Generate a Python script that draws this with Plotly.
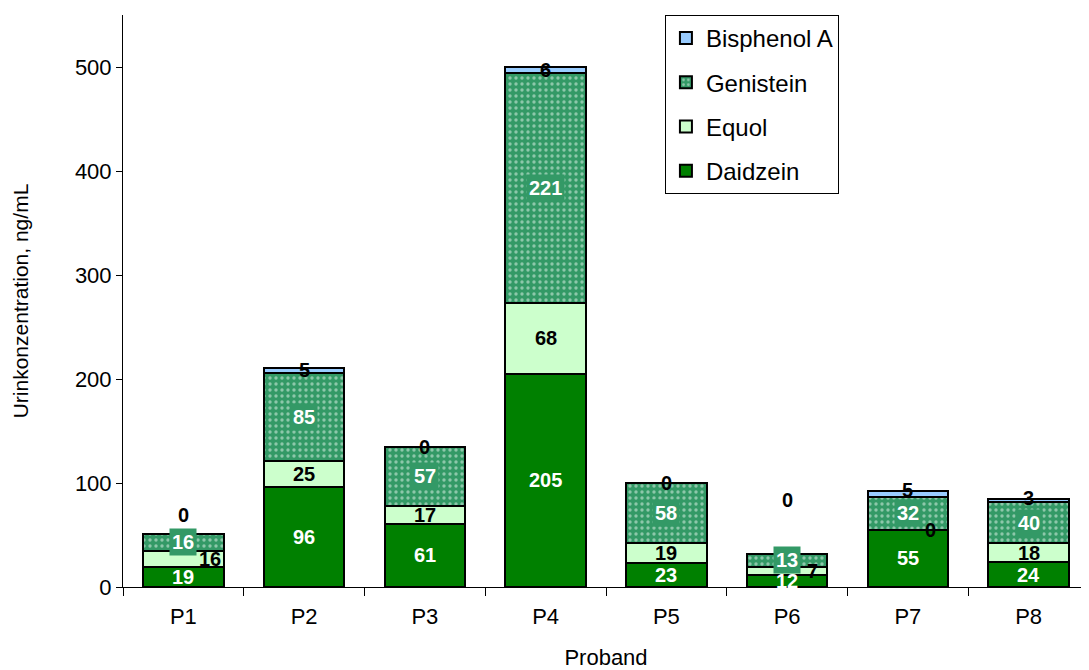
import plotly.graph_objects as go

categories = ["P1", "P2", "P3", "P4", "P5", "P6", "P7", "P8"]
daidzein = [19, 96, 61, 205, 23, 12, 55, 24]
equol = [16, 25, 17, 68, 19, 7, 0, 18]
genistein = [16, 85, 57, 221, 58, 13, 32, 40]
bisphenol = [0, 5, 0, 6, 0, 0, 5, 3]

y_ticks = [0, 100, 200, 300, 400, 500]

FONT = "Liberation Sans, Arial, sans-serif"

fig = go.Figure()
line = dict(color="black", width=2)
fig.add_trace(go.Bar(name="Daidzein", x=categories, y=daidzein,
                     marker=dict(color="#008000", line=line), legendgroup="d", legendrank=4))
fig.add_trace(go.Bar(name="Equol", x=categories, y=equol,
                     marker=dict(color="#CCFFCC", line=line), legendgroup="e", legendrank=3))
fig.add_trace(go.Bar(name="Genistein", x=categories, y=genistein,
                     marker=dict(color="#339966", line=line,
                                 pattern=dict(shape=".", fgcolor="#E8F5EE", bgcolor="#339966",
                                              size=6, solidity=0.25)),
                     legendgroup="g", legendrank=2))
fig.add_trace(go.Bar(name="Bisphenol A", x=categories, y=bisphenol,
                     marker=dict(color="#99CCFF", line=line), legendgroup="b", legendrank=1))

annotations = []
LS = 20
eq_xshift = {0: 27, 5: 25, 6: 23}
bpa_yshift = {0: 19, 5: 54, 6: 4, 7: 2}
for i, c in enumerate(categories):
    d, e, g, b = daidzein[i], equol[i], genistein[i], bisphenol[i]
    annotations.append(dict(x=c, y=d / 2, text="<b>%d</b>" % d, showarrow=False,
                            font=dict(family=FONT, size=LS, color="white")))
    annotations.append(dict(x=c, y=d + e / 2, text="<b>%d</b>" % e, showarrow=False,
                            xshift=eq_xshift.get(i, 0),
                            font=dict(family=FONT, size=LS, color="black")))
    annotations.append(dict(x=c, y=d + e + g / 2, text="<b>%d</b>" % g, showarrow=False,
                            bgcolor="#339966", borderpad=2,
                            font=dict(family=FONT, size=LS, color="white")))
    annotations.append(dict(x=c, y=d + e + g + b / 2, text="<b>%d</b>" % b, showarrow=False,
                            yshift=bpa_yshift.get(i, 0),
                            font=dict(family=FONT, size=LS, color="black")))

fig.update_layout(
    barmode="stack",
    bargap=1 / 3,
    width=1081, height=662,
    margin=dict(l=115, r=0, t=7, b=83),
    paper_bgcolor="white", plot_bgcolor="white",
    font=dict(family=FONT, size=21, color="black"),
    annotations=annotations,
    showlegend=True,
    legend=dict(x=0.561, y=1.0, xanchor="left", yanchor="top",
                bordercolor="black", borderwidth=1, bgcolor="white",
                traceorder="grouped", tracegroupgap=10,
                font=dict(family=FONT, size=24, color="black")),
    xaxis=dict(title=dict(text="Proband", font=dict(size=22), standoff=24),
               automargin=False,
               showline=True, linecolor="black", linewidth=1,
               ticks="outside", ticklen=8, tickcolor="black", tickson="boundaries",
               ticklabelstandoff=10,
               tickfont=dict(size=22), range=[-0.5, 7.5], showgrid=False),
    yaxis=dict(title=dict(text="Urinkonzentration, ng/mL", font=dict(size=21), standoff=40),
               automargin=False,
               range=[0, 550], tickvals=y_ticks,
               showline=True, linecolor="black", linewidth=1,
               ticks="outside", ticklen=6, tickcolor="black",
               tickfont=dict(size=22), showgrid=False, zeroline=False),
)

fig.write_html("out.html")
